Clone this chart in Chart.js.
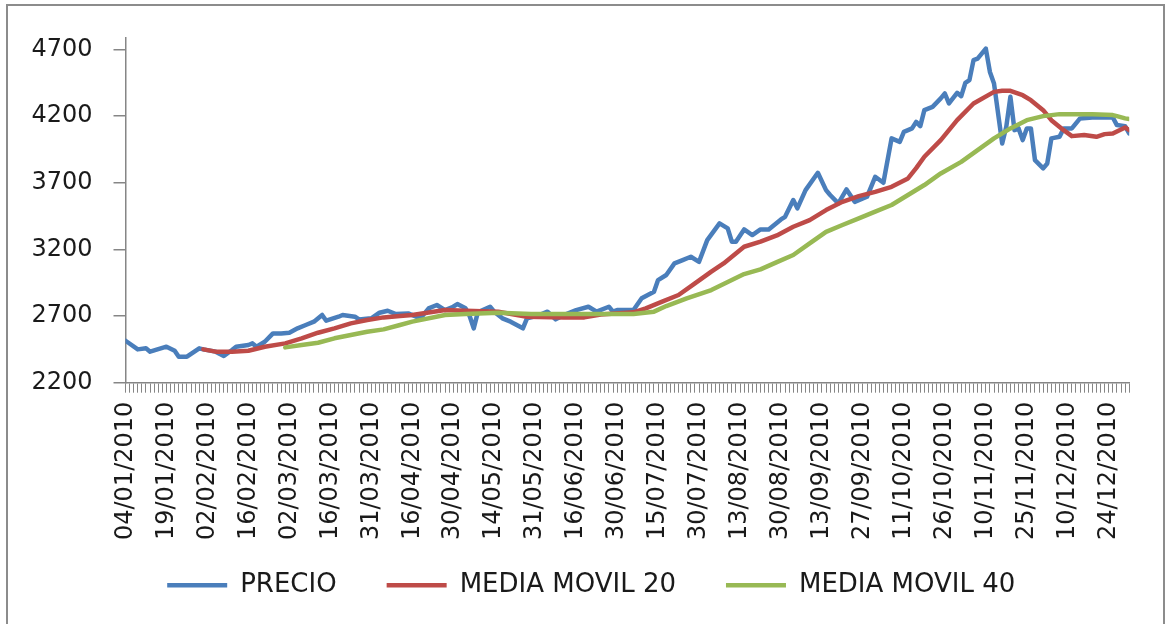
<!DOCTYPE html>
<html>
<head>
<meta charset="utf-8">
<script src="https://cdn.jsdelivr.net/npm/chart.js@4.4.1/dist/chart.umd.min.js"></script>
<style>
  html, body { margin: 0; padding: 0; background: #fff; }
  .wrap { position: relative; width: 1167px; height: 624px; overflow: hidden; }
  .frame { position: absolute; left: 6px; top: 4px; width: 1159px; height: 660px; border: 2px solid #8c8c8c; box-sizing: border-box; }
  canvas { position: absolute; left: 0; top: 0; }
</style>
</head>
<body>
<div class="wrap">
  <div class="frame"></div>
  <canvas id="chart" width="1167" height="624"></canvas>
</div>
<script>
// Tick labels (one every 10 trading days)
const tickLabels = ['04/01/2010', '19/01/2010', '02/02/2010', '16/02/2010', '02/03/2010',
    '16/03/2010', '31/03/2010', '16/04/2010', '30/04/2010', '14/05/2010', '31/05/2010',
    '16/06/2010', '30/06/2010', '15/07/2010', '30/07/2010', '13/08/2010', '30/08/2010',
    '13/09/2010', '27/09/2010', '11/10/2010', '26/10/2010', '10/11/2010', '25/11/2010',
    '10/12/2010', '24/12/2010'];
const tickEvery = 10;
const lastDay = 245;
const yTicks = [2200, 2700, 3200, 3700, 4200, 4700];

// Price (trading day index -> value)
const priceDay = [0, 3, 5, 6, 10, 12, 13, 15, 18, 19,
    22, 24, 26, 27, 30, 31, 32, 34, 36, 38,
    40, 42, 44, 46, 48, 49, 52, 53, 56, 57,
    60, 62, 64, 66, 69, 72, 74, 76, 78, 80,
    81, 83, 84, 85, 86, 89, 90, 92, 94, 97,
    98, 99, 101, 103, 105, 107, 110, 113, 115, 118,
    119, 120, 124, 126, 129, 130, 132, 134, 136, 138,
    140, 142, 145, 147, 148, 149, 151, 153, 155, 157,
    160, 161, 163, 164, 166, 169, 171, 172, 174, 176,
    178, 181, 183, 185, 187, 189, 190, 192, 193, 194,
    195, 197, 199, 200, 201, 203, 204, 205, 206, 207,
    208, 210, 211, 212, 214, 215, 216, 217, 218, 219,
    220, 221, 222, 224, 225, 226, 228, 229, 231, 233,
    236, 241, 242, 244, 245];
const price = [2515, 2450, 2458, 2433, 2470, 2440, 2395, 2395, 2458, 2450,
    2433, 2400, 2445, 2470, 2483, 2495, 2470, 2507, 2570, 2570,
    2575, 2608, 2633, 2658, 2708, 2665, 2695, 2708, 2695, 2675,
    2683, 2725, 2740, 2715, 2720, 2683, 2758, 2783, 2745, 2770,
    2790, 2758, 2700, 2608, 2728, 2770, 2733, 2683, 2658, 2608,
    2683, 2690, 2708, 2733, 2675, 2708, 2745, 2770, 2733, 2770,
    2733, 2745, 2745, 2833, 2883, 2970, 3008, 3095, 3120, 3145,
    3107, 3270, 3395, 3358, 3258, 3258, 3350, 3308, 3350, 3350,
    3425, 3445, 3570, 3508, 3645, 3775, 3645, 3608, 3545, 3650,
    3557, 3595, 3745, 3700, 4033, 4007, 4082, 4108, 4157, 4125,
    4245, 4270, 4333, 4370, 4295, 4375, 4350, 4450, 4470, 4620,
    4632, 4707, 4532, 4445, 3995, 4120, 4345, 4095, 4108, 4020,
    4108, 4108, 3870, 3808, 3845, 4033, 4045, 4108, 4108, 4183,
    4190, 4190, 4133, 4125, 4070];

// Media movil 20
const ma20Day = [19, 22, 26, 30, 34, 39, 43, 47, 51, 55,
    59, 63, 67, 70, 78, 83, 91, 98, 107, 112,
    116, 124, 127, 131, 135, 139, 143, 146, 151, 155,
    159, 163, 167, 171, 175, 179, 183, 187, 191, 193,
    195, 199, 203, 207, 212, 214, 216, 219, 221, 224,
    226, 229, 231, 234, 237, 239, 241, 243, 244, 245];
const ma20 = [2450, 2433, 2433, 2440, 2470, 2495, 2533, 2575, 2608, 2645,
    2670, 2690, 2700, 2708, 2745, 2740, 2733, 2695, 2690, 2690,
    2712, 2728, 2758, 2808, 2858, 2945, 3033, 3095, 3220, 3258,
    3305, 3370, 3420, 3495, 3557, 3600, 3632, 3670, 3733, 3810,
    3895, 4020, 4170, 4295, 4382, 4390, 4390, 4357, 4320, 4245,
    4170, 4095, 4050, 4058, 4045, 4065, 4070, 4100, 4115, 4095];

// Media movil 40
const ma40Day = [39, 43, 47, 51, 55, 59, 63, 67, 70, 78,
    83, 91, 99, 124, 129, 132, 137, 143, 151, 155,
    159, 163, 167, 171, 175, 179, 183, 187, 191, 195,
    199, 204, 208, 212, 216, 220, 224, 228, 236, 241,
    242, 244, 245];
const ma40 = [2465, 2483, 2500, 2533, 2558, 2582, 2600, 2633, 2658, 2708,
    2715, 2725, 2715, 2715, 2733, 2775, 2833, 2895, 3015, 3050,
    3105, 3158, 3245, 3332, 3383, 3433, 3483, 3533, 3608, 3683,
    3770, 3857, 3945, 4033, 4108, 4170, 4200, 4215, 4215, 4208,
    4200, 4183, 4178];

const colors = {
    precio: '#4A7EBB',
    ma20: '#BE4B48',
    ma40: '#98B954',
    axis: '#868686',
    text: '#1a1a1a'
};

const toPoints = (days, values) => days.map((d, i) => ({ x: d, y: values[i] }));

Chart.defaults.font.family = '"DejaVu Sans", sans-serif';
Chart.defaults.color = colors.text;

const lineStyle = (color) => ({
    borderColor: color,
    backgroundColor: color,
    borderWidth: 4.5,
    pointRadius: 0,
    tension: 0,
    borderCapStyle: 'round',
    borderJoinStyle: 'round',
    fill: false
});

// Nudge the legend row to where the original sits (Excel puts it tighter under the labels)
const legendNudge = {
    id: 'legendNudge',
    afterLayout(chart) {
        const legend = chart.legend;
        legend.left += 26;
        legend.right += 26;
        legend.top -= 20.5;
        legend.bottom -= 20.5;
    }
};

new Chart(document.getElementById('chart').getContext('2d'), {
    type: 'line',
    data: {
        datasets: [
            { label: 'PRECIO', data: toPoints(priceDay, price), order: 3, ...lineStyle(colors.precio) },
            { label: 'MEDIA MOVIL 20', data: toPoints(ma20Day, ma20), order: 2, ...lineStyle(colors.ma20) },
            { label: 'MEDIA MOVIL 40', data: toPoints(ma40Day, ma40), order: 1, ...lineStyle(colors.ma40) }
        ]
    },
    plugins: [legendNudge],
    options: {
        responsive: false,
        animation: false,
        layout: { padding: { left: 0, right: 36.5, top: 37.5, bottom: 11.3 } },
        plugins: {
            tooltip: { enabled: false },
            legend: {
                position: 'bottom',
                maxHeight: 70,
                labels: {
                    usePointStyle: true,
                    pointStyle: 'line',
                    pointStyleWidth: 60,
                    padding: 50,
                    color: colors.text,
                    font: { size: 26 },
                    sort: (a, b) => a.datasetIndex - b.datasetIndex
                }
            }
        },
        scales: {
            x: {
                type: 'linear',
                min: 0,
                max: lastDay,
                afterBuildTicks: (scale) => {
                    const ticks = [];
                    for (let d = 0; d <= lastDay; d++) ticks.push({ value: d });
                    scale.ticks = ticks;
                },
                afterFit: (scale) => { scale.height = 160; },
                ticks: {
                    autoSkip: false,
                    minRotation: 90,
                    maxRotation: 90,
                    padding: 9,
                    font: { size: 24 },
                    callback: (value) => value % tickEvery === 0 ? tickLabels[value / tickEvery] : ''
                },
                grid: { drawOnChartArea: false, tickLength: 10, color: colors.axis, lineWidth: 1 },
                border: { color: colors.axis, width: 1.5 }
            },
            y: {
                min: 2200,
                max: 4790,
                afterBuildTicks: (scale) => { scale.ticks = yTicks.map(v => ({ value: v })); },
                afterFit: (scale) => { scale.width = 125.5; },
                ticks: { padding: 21, font: { size: 24 }, callback: (value) => String(value) },
                grid: { drawOnChartArea: false, tickLength: 12, color: colors.axis, lineWidth: 1.5 },
                border: { color: colors.axis, width: 1.5 }
            }
        }
    }
});
</script>
</body>
</html>
